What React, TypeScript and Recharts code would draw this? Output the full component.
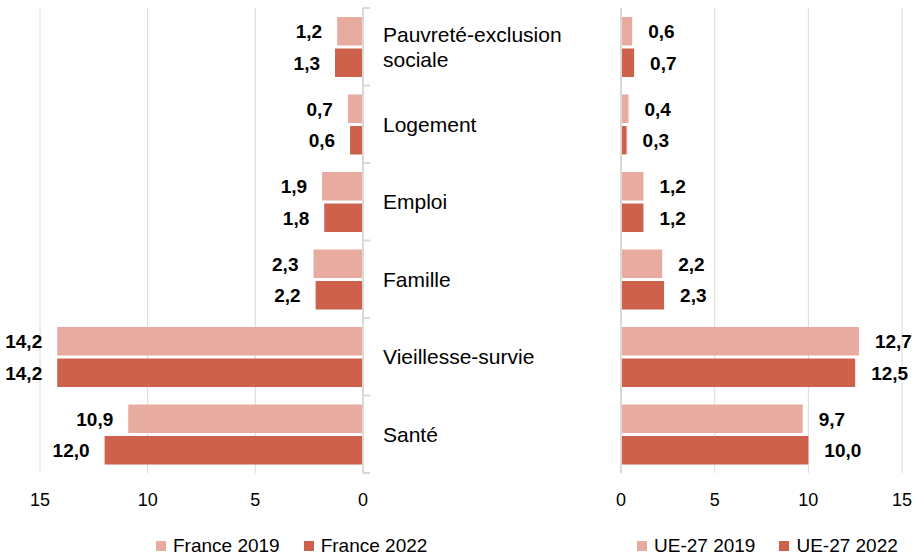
import React from "react"
import { BarChart, Bar, XAxis, YAxis, CartesianGrid, LabelList } from "recharts"

const categories = ["Pauvreté-exclusion\nsociale", "Logement", "Emploi", "Famille", "Vieillesse-survie", "Santé"]
const france2019 = [1.2, 0.7, 1.9, 2.3, 14.2, 10.9]
const france2022 = [1.3, 0.6, 1.8, 2.2, 14.2, 12.0]
const ue2019 = [0.6, 0.4, 1.2, 2.2, 12.7, 9.7]
const ue2022 = [0.7, 0.3, 1.2, 2.3, 12.5, 10.0]
const xTicks = [0, 5, 10, 15]

const LIGHT = "#E7ABA0"
const DARK = "#CD614B"
const GRID = "#D9D9D9"
const FONT = "'Liberation Sans', Arial, sans-serif"

const franceData = categories.map((name, i) => ({ name, v2019: france2019[i], v2022: france2022[i] }))
const ueData = categories.map((name, i) => ({ name, v2019: ue2019[i], v2022: ue2022[i] }))

const H = 557
const TOP = 8
const BOTTOM = 473
const BAND = (BOTTOM - TOP) / categories.length

const fmt = (v: number) => v.toFixed(1).replace(".", ",")

const LeftLabel = (props: any) => {
  const { x, y, width, height } = props.viewBox ?? props
  const left = Math.min(x, x + width)
  return (
    <text x={left - 15} y={y + height / 2} dy="0.36em" textAnchor="end" fontSize={19} fontWeight="bold" fill="#000" fontFamily={FONT}>
      {fmt(props.value)}
    </text>
  )
}

const RightLabel = (props: any) => {
  const { x, y, width, height } = props.viewBox ?? props
  const right = Math.max(x, x + width)
  return (
    <text x={right + 16} y={y + height / 2} dy="0.36em" textAnchor="start" fontSize={19} fontWeight="bold" fill="#000" fontFamily={FONT}>
      {fmt(props.value)}
    </text>
  )
}

const CategoryTick = (props: any) => {
  const { x, y, payload, index } = props
  const lines = String(payload.value).split("\n")
  const lh = 25
  const start = y - ((lines.length - 1) * lh) / 2
  return (
    <g>
      <line x1={x} x2={x + 7} y1={y - BAND / 2} y2={y - BAND / 2} stroke={GRID} strokeWidth={2} />
      {index === categories.length - 1 && <line x1={x} x2={x + 7} y1={y + BAND / 2} y2={y + BAND / 2} stroke={GRID} strokeWidth={2} />}
      <text x={x + 20} y={start} fontSize={21} fill="#000" fontFamily={FONT}>
        {lines.map((l, i) => (
          <tspan key={i} x={x + 20} y={start + i * lh} dy="0.36em">
            {l}
          </tspan>
        ))}
      </text>
    </g>
  )
}

const LegendItem = ({ color, label }: { color: string; label: string }) => (
  <div style={{ display: "flex", alignItems: "center" }}>
    <div style={{ width: 10, height: 10, background: color, marginRight: 7 }} />
    <span>{label}</span>
  </div>
)

const legendRow: React.CSSProperties = {
  position: "absolute",
  top: 534,
  display: "flex",
  gap: 24,
  fontSize: 19,
  fontFamily: FONT,
  color: "#000",
  lineHeight: "24px",
}

export default function App() {
  return (
    <div style={{ position: "absolute", left: 0, top: 0, width: 917, height: H, background: "#fff", fontFamily: FONT }}>
      <div style={{ position: "absolute", left: 0, top: 0 }}>
        <BarChart width={600} height={H} data={franceData} layout="vertical" barGap={3} margin={{ top: TOP, right: 37, bottom: 0, left: 40 }}>
          <CartesianGrid horizontal={false} stroke={GRID} />
          <XAxis
            type="number"
            domain={[0, 15]}
            ticks={xTicks}
            reversed
            height={H - BOTTOM}
            axisLine={false}
            tickLine={false}
            tickSize={0}
            tickMargin={20}
            tick={{ fill: "#000", fontSize: 18, fontFamily: FONT }}
          />
          <YAxis
            type="category"
            dataKey="name"
            orientation="right"
            width={200}
            axisLine={{ stroke: GRID, strokeWidth: 2 }}
            tickLine={false}
            tickSize={0}
            tickMargin={0}
            interval={0}
            tick={<CategoryTick />}
          />
          <Bar dataKey="v2019" fill={LIGHT} barSize={28.5} isAnimationActive={false}>
            <LabelList dataKey="v2019" content={<LeftLabel />} />
          </Bar>
          <Bar dataKey="v2022" fill={DARK} barSize={28.5} isAnimationActive={false}>
            <LabelList dataKey="v2022" content={<LeftLabel />} />
          </Bar>
        </BarChart>
      </div>
      <div style={{ position: "absolute", left: 600, top: 0 }}>
        <BarChart width={317} height={H} data={ueData} layout="vertical" barGap={3} margin={{ top: TOP, right: 15, bottom: 0, left: 0 }}>
          <CartesianGrid horizontal={false} stroke={GRID} />
          <XAxis
            type="number"
            domain={[0, 15]}
            ticks={xTicks}
            height={H - BOTTOM}
            axisLine={false}
            tickLine={false}
            tickSize={0}
            tickMargin={20}
            tick={{ fill: "#000", fontSize: 18, fontFamily: FONT }}
          />
          <YAxis type="category" dataKey="name" width={21} axisLine={{ stroke: GRID, strokeWidth: 2 }} tickLine={false} tick={false} />
          <Bar dataKey="v2019" fill={LIGHT} barSize={28.5} isAnimationActive={false}>
            <LabelList dataKey="v2019" content={<RightLabel />} />
          </Bar>
          <Bar dataKey="v2022" fill={DARK} barSize={28.5} isAnimationActive={false}>
            <LabelList dataKey="v2022" content={<RightLabel />} />
          </Bar>
        </BarChart>
      </div>
      <div style={{ ...legendRow, left: 156 }}>
        <LegendItem color={LIGHT} label="France 2019" />
        <LegendItem color={DARK} label="France 2022" />
      </div>
      <div style={{ ...legendRow, left: 637 }}>
        <LegendItem color={LIGHT} label="UE-27 2019" />
        <LegendItem color={DARK} label="UE-27 2022" />
      </div>
    </div>
  )
}
